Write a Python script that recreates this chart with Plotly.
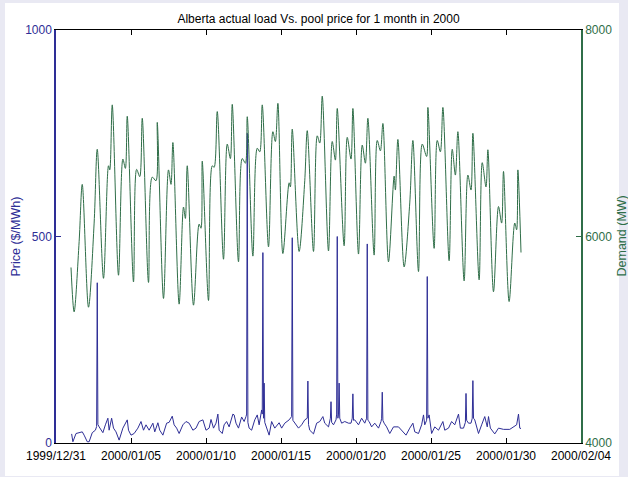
import pandas as pd
import plotly.graph_objects as go

# ---- data ----
start_time = "2000-01-01 00:00"

demand_hour = [0, 5, 13, 18, 28, 37, 42, 52, 60, 62, 66, 76, 83, 87, 90, 100, 105, 110, 114,
               124, 130, 136, 138, 148, 156, 160, 163, 173, 180, 183, 186, 196, 205, 208, 210,
               220, 226, 229, 234, 244, 250, 255, 258, 268, 274, 279, 282, 291, 298, 302, 306,
               316, 323, 327, 331, 339, 349, 351, 354, 365, 374, 378, 388, 394, 398, 402, 412,
               418, 423, 426, 437, 442, 448, 451, 460, 466, 471, 475, 485, 490, 495, 499, 508,
               517, 519, 523, 533, 542, 547, 556, 562, 569, 571, 581, 586, 591, 595, 605, 610,
               615, 619, 629, 635, 640, 643, 653, 658, 664, 667, 676, 684, 689, 692, 701, 710,
               713, 715, 720]
demand_mw = [5700, 5270, 5950, 6505, 5315, 6130, 6845, 5595, 6685, 6645, 7275, 5625, 6750, 6660,
             7165, 5560, 6650, 6580, 7145, 5555, 6575, 6540, 7105, 5400, 6645, 6505, 6910, 5345,
             6285, 6175, 6685, 5335, 6120, 6080, 6730, 5380, 6685, 6670, 7210, 5780, 6895, 6755,
             7280, 5755, 6755, 6710, 7160, 5810, 6855, 6820, 7275, 5900, 7015, 6920, 7290, 5835,
             6520, 6480, 7040, 5855, 6540, 7025, 5855, 6975, 6905, 7360, 5860, 6920, 6740, 7240,
             5910, 6960, 6750, 7240, 5830, 6885, 6710, 7145, 5820, 6930, 6830, 7095, 5755, 6585,
             6450, 6940, 5705, 6325, 6930, 5660, 6895, 6775, 7250, 5885, 6930, 6820, 7250, 5765,
             6845, 6595, 7015, 5570, 6595, 6450, 7000, 5580, 6715, 6480, 6840, 5465, 6290, 6130,
             6630, 5370, 6130, 6065, 6645, 5845]

price_hour = [1, 3, 8, 18, 21, 26, 29, 34, 39, 41, 42, 43, 45, 51, 55, 59, 61, 65, 68, 72, 77,
              83, 90, 92, 96, 101, 107, 112, 116, 120, 125, 131, 134, 139, 142, 147, 153, 157,
              162, 165, 169, 173, 179, 184, 189, 195, 200, 205, 211, 216, 221, 224, 228, 232,
              235, 237, 242, 245, 249, 253, 259, 261, 264, 268, 273, 277, 280, 281, 282, 283,
              285, 289, 294, 298, 301, 305, 306, 307, 308, 309, 310, 313, 317, 321, 326, 333,
              337, 342, 349, 353, 354, 355, 358, 364, 369, 374, 378, 379, 380, 382, 388, 393,
              398, 403, 406, 412, 415, 416, 417, 420, 424, 425, 426, 427, 428, 429, 430, 433,
              438, 444, 448, 450, 451, 452, 454, 460, 465, 470, 473, 474, 475, 477, 481, 486,
              492, 496, 497, 498, 499, 501, 505, 510, 516, 524, 529, 536, 542, 547, 550, 556,
              561, 564, 566, 569, 570, 571, 573, 577, 582, 588, 595, 598, 604, 609, 614, 620,
              623, 628, 631, 632, 633, 636, 640, 642, 643, 644, 646, 652, 657, 662, 666, 668,
              671, 678, 684, 692, 702, 708, 713, 716, 718, 720]
price_usd = [22, 3, 23, 27, 19, 3, 3, 25, 31, 40, 388, 45, 39, 25, 44, 60, 31, 60, 36, 27, 7,
             36, 56, 31, 19, 23, 36, 52, 31, 44, 31, 48, 27, 49, 31, 19, 48, 50,
             65, 44, 36, 23, 44, 52, 48, 31, 36, 52, 56, 31, 36, 57, 36, 48,
             70, 31, 23, 44, 52, 39, 70, 68, 48, 36, 63, 52, 64, 70, 750, 50,
             36, 31, 56, 68, 44, 80, 70, 461, 60, 145, 50, 36, 19, 52, 36, 49,
             36, 48, 56, 64, 497, 55, 48, 36, 44, 56, 60, 150, 45, 31, 22, 48,
             52, 64, 48, 39, 60, 100, 50, 44, 56, 70, 500, 60, 70, 145, 60, 48,
             52, 48, 48, 60, 119, 55, 56, 44, 60, 48, 60, 482, 55, 52, 39, 48,
             36, 52, 60, 123, 55, 48, 39, 23, 39, 39, 31, 19, 36, 48, 27, 23,
             44, 68, 44, 55, 403, 60, 68, 23, 39, 31, 52, 31, 36, 52, 44, 70,
             36, 36, 50, 120, 55, 48, 48, 60, 151, 60, 56, 23, 44, 64, 39, 64,
             36, 22, 36, 33, 33, 39, 44, 70, 36, 35]

x_tick_dates = ["1999-12-31", "2000-01-05", "2000-01-10", "2000-01-15",
                "2000-01-20", "2000-01-25", "2000-01-30", "2000-02-04"]
x_tick_labels = ["1999/12/31", "2000/01/05", "2000/01/10", "2000/01/15",
                 "2000/01/20", "2000/01/25", "2000/01/30", "2000/02/04"]
price_ticks = [0, 500, 1000]
demand_ticks = [4000, 6000, 8000]

# ---- build ----
t0 = pd.Timestamp(start_time)
demand_t = [t0 + pd.Timedelta(hours=h) for h in demand_hour]
price_t = [t0 + pd.Timedelta(hours=h) for h in price_hour]

BLUE = "#2e2e96"
GREEN = "#2f6e48"
FONT = "Liberation Sans, Arial, sans-serif"

fig = go.Figure()
fig.add_trace(go.Scatter(x=demand_t, y=demand_mw, mode="lines", yaxis="y2",
                         line=dict(color=GREEN, width=1, shape="spline", smoothing=0.9),
                         showlegend=False, hoverinfo="skip"))
fig.add_trace(go.Scatter(x=price_t, y=price_usd, mode="lines",
                         line=dict(color=BLUE, width=1),
                         showlegend=False, hoverinfo="skip"))

fig.update_layout(
    width=628, height=477,
    margin=dict(l=56, r=47, t=30, b=34, autoexpand=False),
    paper_bgcolor="#e9e9f3",
    plot_bgcolor="rgba(0,0,0,0)",
    font=dict(family=FONT, size=12, color="black"),
    title=dict(text="Alberta actual load Vs. pool price for 1 month in 2000",
               x=0.5, xref="paper", y=1, yref="paper", yanchor="bottom",
               automargin=False,
               pad=dict(b=7), font=dict(size=12, color="black")),
    xaxis=dict(type="date", range=[x_tick_dates[0], x_tick_dates[-1]],
               tickvals=x_tick_dates, ticktext=x_tick_labels,
               ticks="inside", ticklen=5, tickcolor="black",
               showline=True, linecolor="black", linewidth=1, mirror="ticks",
               showgrid=False, zeroline=False, automargin=False,
               ticklabelstandoff=2,
               tickfont=dict(size=12, color="black")),
    yaxis=dict(range=[0, 1000], tickvals=price_ticks,
               ticks="inside", ticklen=5, tickcolor=BLUE,
               showline=True, linecolor=BLUE, linewidth=1.5,
               showgrid=False, zeroline=False, automargin=False,
               tickfont=dict(size=12, color=BLUE)),
    yaxis2=dict(range=[4000, 8000], tickvals=demand_ticks, overlaying="y", side="right",
                ticks="inside", ticklen=5, tickcolor=GREEN,
                showline=True, linecolor=GREEN, linewidth=1.5,
                showgrid=False, zeroline=False, automargin=False,
                tickfont=dict(size=12, color=GREEN)),
    shapes=[dict(type="rect", xref="paper", yref="paper", layer="below",
                 x0=-51 / 525, x1=1 + 38 / 525, y0=-33 / 413, y1=1 + 27 / 413,
                 fillcolor="white", line=dict(width=0))],
    annotations=[
        dict(text="Price ($/MWh)", xref="paper", yref="paper", x=-41 / 525, y=0.5,
             textangle=-90, showarrow=False, xanchor="center", yanchor="middle",
             font=dict(size=12.5, color=BLUE)),
        dict(text="Demand (MW)", xref="paper", yref="paper", x=1 + 40 / 525, y=0.5,
             textangle=-90, showarrow=False, xanchor="center", yanchor="middle",
             font=dict(size=12.5, color=GREEN)),
    ],
)

fig.write_html("out.html", config={"displayModeBar": False},
               post_script="document.body.style.margin='0';")
